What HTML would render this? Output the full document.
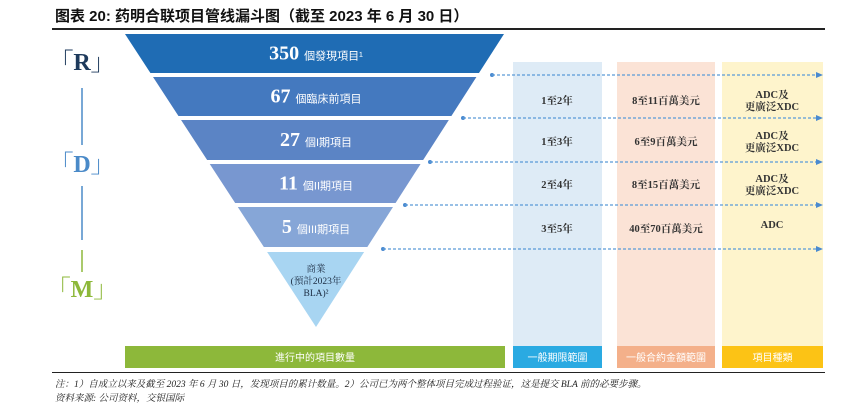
<!DOCTYPE html>
<html><head><meta charset="utf-8"><style>
body{margin:0;width:859px;height:404px;background:#fff;position:relative;overflow:hidden;font-family:"Liberation Serif","Noto Serif CJK SC",serif}
.a{position:absolute}
.t{font-family:"Liberation Sans","Noto Sans CJK SC",sans-serif}
</style></head><body>
<div class="a t" style="left:55px;top:5px;font-size:15px;font-weight:bold;color:#111">图表 20: 药明合联项目管线漏斗图（截至 2023 年 6 月 30 日）</div>
<div class="a" style="left:52px;top:28px;width:773px;height:1.5px;background:#222"></div>
<svg class="a" style="left:0;top:0" width="859" height="404">
<g id="cols"></g><g id="funnel"></g><g id="arrows"></g><g id="side"></g>
</svg>
<div class="a" style="left:52px;top:372px;width:773px;height:1px;background:#222"></div>
<div class="a" style="left:55px;top:376px;font-size:9.5px;font-style:italic;color:#222">注：1）自成立以来及截至 2023 年 6 月 30 日，发现项目的累计数量。2）公司已为两个整体项目完成过程验证，这是提交 BLA 前的必要步骤。</div>
<div class="a" style="left:55px;top:390px;font-size:9.5px;font-style:italic;color:#222">资料来源: 公司资料，交银国际</div>
<script>
const counts=["350","67","27","11","5"];
const stageLabels=["個發現項目¹","個臨床前項目","個I期項目","個II期項目","個III期項目"];
const durations=["1至2年","1至3年","2至4年","3至5年"];
const costs=["8至11百萬美元","6至9百萬美元","8至15百萬美元","40至70百萬美元"];
const types=[["ADC及","更廣泛XDC"],["ADC及","更廣泛XDC"],["ADC及","更廣泛XDC"],["ADC"]];
const headers=["進行中的項目數量","一般期限範圍","一般合約金額範圍","項目種類"];
const NS="http://www.w3.org/2000/svg";
function mk(p,tag,at,txt){const e=document.createElementNS(NS,tag);for(const k in at)e.setAttribute(k,at[k]);if(txt!=null)e.textContent=txt;p.appendChild(e);return e;}
const cols=document.getElementById('cols'),fun=document.getElementById('funnel'),arr=document.getElementById('arrows'),side=document.getElementById('side');
const colX=[[125,505],[513,602],[617,715],[722,823]];
const colBg=[null,"#deebf6","#fbe3d6","#fef4cc"];
const hdrC=["#8db83a","#2aaae2","#f4b08a","#fcc315"];
colX.forEach((c,i)=>{
 if(colBg[i]){const r=mk(cols,'rect',{x:c[0],y:62,width:c[1]-c[0],height:284,fill:colBg[i]});}
 const h=mk(cols,'rect',{x:c[0],y:346,width:c[1]-c[0],height:22,fill:hdrC[i]});
 const ht=mk(cols,'text',{x:(c[0]+c[1])/2,y:361,'text-anchor':'middle','font-size':10,fill:'#fff','font-family':'"Liberation Sans","Noto Sans CJK SC",sans-serif'},headers[i]);
});
const tipX=316,tipY=327,funnelTop=34;
function lx(y){return 125+(tipX-125)*(y-funnelTop)/(tipY-funnelTop);}
function rx(y){return 504-(504-tipX)*(y-funnelTop)/(tipY-funnelTop);}
const bandY=[[34,73],[77,116],[120,160],[164,203],[207,247]];
const bandC=["#1f6cb4","#4479bf","#5b84c5","#7897d0","#86a6d7"];
const arrowStart=[492,463,430,405,383];
counts.forEach((c,i)=>{
 const [y0,y1]=bandY[i];
 const p=mk(fun,'polygon',{points:`${lx(y0)},${y0} ${rx(y0)},${y0} ${rx(y1)},${y1} ${lx(y1)},${y1}`,fill:bandC[i]});
 
 const cy=(y0+y1)/2+6;
 const t=mk(fun,'text',{x:316,y:cy,'text-anchor':'middle',fill:'#fff'});
 
 mk(t,'tspan',{'font-size':20,'font-weight':'bold'},c+' ');
 mk(t,'tspan',{'font-size':11,'font-family':'"Liberation Sans","Noto Sans CJK SC",sans-serif'},stageLabels[i]);
 const ay=y1+2, ax=arrowStart[i];
 mk(arr,'circle',{cx:ax,cy:ay,r:2,fill:'#4a8ad0'});
 const l=mk(arr,'line',{x1:ax,y1:ay,x2:816,y2:ay,stroke:'#5a9ad8','stroke-width':1.2,'stroke-dasharray':'3,2'});
 
 mk(arr,'polygon',{points:`816,${ay-3} 823,${ay} 816,${ay+3}`,fill:'#4a8ad0'});
});
const tri=mk(fun,'polygon',{points:`${lx(252)},252 ${rx(252)},252 ${tipX},${tipY}`,fill:'#a8d5f2'});

["商業","(預計2023年","BLA)²"].forEach((s,i)=>{const t=mk(fun,'text',{x:316,y:272+i*12,'text-anchor':'middle','font-size':9.5,fill:'#1a2a40'},s);});
const rowY=[100,141,184,228];
durations.forEach((d,i)=>{
 const y=rowY[i];
 const a=mk(cols,'text',{x:557,y:y+4,'text-anchor':'middle','font-size':10.5,'font-weight':'bold',fill:'#333'},d);
 const b=mk(cols,'text',{x:666,y:y+4,'text-anchor':'middle','font-size':10.5,'font-weight':'bold',fill:'#333'},costs[i]);
 const ty=types[i];
 ty.forEach((s,j)=>{const c=mk(cols,'text',{x:772,y:ty.length>1?y-2+j*12:y,'text-anchor':'middle','font-size':10.5,'font-weight':'bold',fill:'#333'},s);});
});
[["「R」",70,"#1e3a5c"],["「D」",172,"#4a8ac8"],["「M」",297,"#8db83a"]].forEach(([s,y,c])=>{const t=mk(side,'text',{x:82,y:y,'text-anchor':'middle','font-size':24,'font-weight':'bold',fill:c},s);});
mk(side,'line',{x1:82,y1:88,x2:82,y2:145,stroke:'#4a8ac8','stroke-width':1.5});
mk(side,'line',{x1:82,y1:186,x2:82,y2:240,stroke:'#4a8ac8','stroke-width':1.5});
mk(side,'line',{x1:82,y1:250,x2:82,y2:272,stroke:'#8db83a','stroke-width':1.5});
</script>
</body></html>
